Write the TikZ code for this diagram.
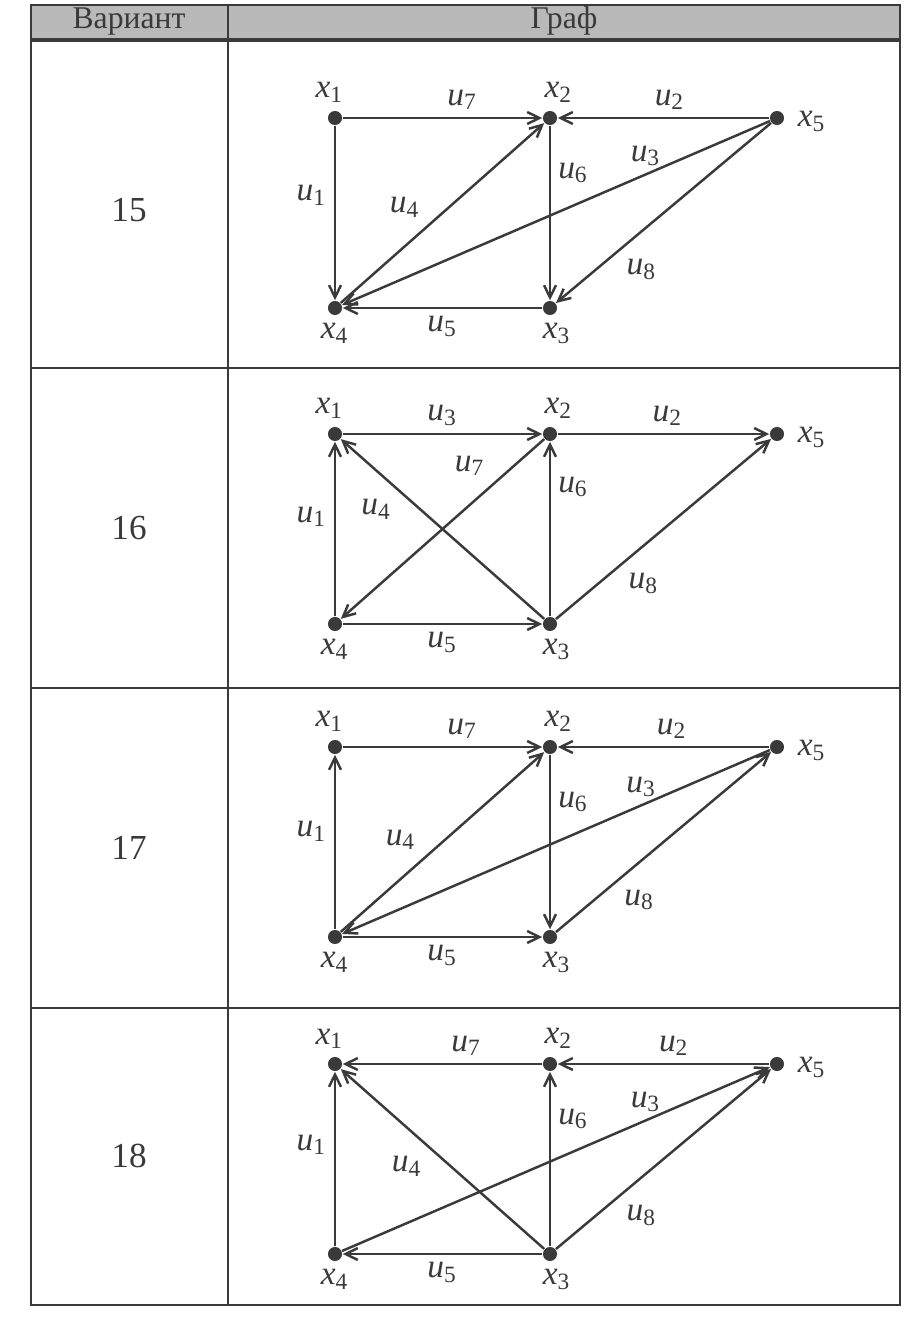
\documentclass[tikz,border=0pt]{standalone}
\usepackage{fontspec}
\setmainfont{Liberation Serif}
\usepackage{xcolor}
\usepackage{tikz}
\usetikzlibrary{arrows.meta}

\definecolor{inkgray}{HTML}{3A3A3A}
\definecolor{headgray}{HTML}{B9B9B9}

\newcommand{\vx}[1]{\textit{x}\textsubscript{#1}}
\newcommand{\ue}[1]{\textit{u}\textsubscript{#1}}

\begin{document}
\begin{tikzpicture}[
    x=0.01cm, y=-0.01cm,
    vertex/.style={circle, fill=inkgray, inner sep=0pt, minimum size=4pt},
    vlabel/.style={font=\fontsize{9.5}{10}\selectfont, text=inkgray, inner sep=1pt, label distance=1pt},
    elabel/.style={font=\fontsize{9.5}{10}\selectfont, text=inkgray, inner sep=2pt},
    arc/.style={-{Straight Barb[length=3.5pt, width=3.4pt]}, line width=0.7pt, draw=inkgray},
    tableline/.style={line width=0.5pt, draw=inkgray},
    headtext/.style={font=\fontsize{9}{10}\selectfont, text=inkgray},
    numtext/.style={font=\fontsize{10}{12}\selectfont, text=inkgray}
]
\useasboundingbox (0,0) rectangle (917,1324);

% table frame and header
\fill[headgray] (31,5) rectangle (900,40);
\draw[tableline] (31,5) rectangle (900,1305);
\draw[tableline, line width=0.9pt] (31,40) -- (900,40);
\draw[tableline] (228,5) -- (228,1305);
\foreach \ry in {368,688,1008}
  \draw[tableline] (31,\ry) -- (900,\ry);

\node[headtext] (hvar) at (129,22) {Вариант};
\node[headtext] (hgraph) at (564,21) {Граф};

% variant numbers
\node[numtext] (n15) at (129,210) {15};
\node[numtext] (n16) at (129,528) {16};
\node[numtext] (n17) at (129,848) {17};
\node[numtext] (n18) at (129,1156) {18};

% vertices, same layout in every row
\foreach \g/\oy in {a/118, b/434, c/747, d/1064}{
  \node[vertex, label={[vlabel, xshift=-1.5pt]above:\vx{1}}] (\g1) at (335,\oy) {};
  \node[vertex, label={[vlabel, xshift=2.5pt]above:\vx{2}}] (\g2) at (550,\oy) {};
  \node[vertex, label={[vlabel, xshift=2pt]below:\vx{3}}] (\g3) at (550,\oy+190) {};
  \node[vertex, label={[vlabel]below:\vx{4}}] (\g4) at (335,\oy+190) {};
  \node[vertex, label={[vlabel, label distance=2.5pt, yshift=-1pt]right:\vx{5}}] (\g5) at (777,\oy) {};
}

% variant 15
\draw[arc] (a1) -- node[elabel, pos=0.6, above] {\ue{7}} (a2);
\draw[arc] (a5) -- node[elabel, pos=0.47, above] {\ue{2}} (a2);
\draw[arc] (a1) -- node[elabel, pos=0.4, left] {\ue{1}} (a4);
\draw[arc] (a4) -- node[elabel, pos=0.43, above left] {\ue{4}} (a2);
\draw[arc] (a2) -- node[elabel, pos=0.27, right] {\ue{6}} (a3);
\draw[arc] (a5) -- node[elabel, pos=0.29, above] {\ue{3}} (a4);
\draw[arc] (a5) -- node[elabel, pos=0.71, below right] {\ue{8}} (a3);
\draw[arc] (a3) -- node[elabel, pos=0.5, below] {\ue{5}} (a4);

% variant 16
\draw[arc] (b1) -- node[elabel, pos=0.5, above] {\ue{3}} (b2);
\draw[arc] (b2) -- node[elabel, pos=0.52, above] {\ue{2}} (b5);
\draw[arc] (b4) -- node[elabel, pos=0.57, left] {\ue{1}} (b1);
\draw[arc] (b3) -- node[elabel, pos=0.71, below left] {\ue{4}} (b1);
\draw[arc] (b2) -- node[elabel, pos=0.25, above left] {\ue{7}} (b4);
\draw[arc] (b3) -- node[elabel, pos=0.74, right] {\ue{6}} (b2);
\draw[arc] (b3) -- node[elabel, pos=0.3, below right] {\ue{8}} (b5);
\draw[arc] (b4) -- node[elabel, pos=0.5, below] {\ue{5}} (b3);

% variant 17
\draw[arc] (c1) -- node[elabel, pos=0.6, above] {\ue{7}} (c2);
\draw[arc] (c5) -- node[elabel, pos=0.46, above] {\ue{2}} (c2);
\draw[arc] (c4) -- node[elabel, pos=0.56, left] {\ue{1}} (c1);
\draw[arc] (c4) -- node[elabel, pos=0.41, above left] {\ue{4}} (c2);
\draw[arc] (c2) -- node[elabel, pos=0.27, right] {\ue{6}} (c3);
\draw[arc] (c5) -- node[elabel, pos=0.3, above] {\ue{3}} (c4);
\draw[arc] (c3) -- node[elabel, pos=0.28, below right] {\ue{8}} (c5);
\draw[arc] (c4) -- node[elabel, pos=0.5, below] {\ue{5}} (c3);

% variant 18
\draw[arc] (d2) -- node[elabel, pos=0.38, above] {\ue{7}} (d1);
\draw[arc] (d5) -- node[elabel, pos=0.45, above] {\ue{2}} (d2);
\draw[arc] (d4) -- node[elabel, pos=0.58, left] {\ue{1}} (d1);
\draw[arc] (d3) -- node[elabel, pos=0.56, below left] {\ue{4}} (d1);
\draw[arc] (d3) -- node[elabel, pos=0.73, right] {\ue{6}} (d2);
\draw[arc] (d4) -- node[elabel, pos=0.71, above] {\ue{3}} (d5);
\draw[arc] (d3) -- node[elabel, pos=0.29, below right] {\ue{8}} (d5);
\draw[arc] (d3) -- node[elabel, pos=0.5, below] {\ue{5}} (d4);

\end{tikzpicture}
\end{document}
